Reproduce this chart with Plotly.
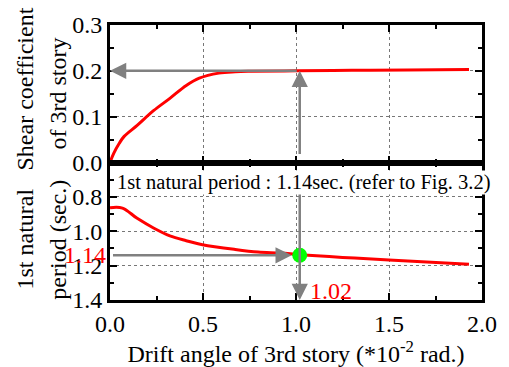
import plotly.graph_objects as go
from plotly.subplots import make_subplots

# Data
drift_shear = [0.0, 0.02, 0.05, 0.076, 0.146, 0.234, 0.322, 0.41, 0.48, 0.585, 0.673, 0.76, 1.0, 1.3, 1.6, 1.93]
shear_coef = [0.0, 0.02, 0.042, 0.057, 0.081, 0.113, 0.140, 0.168, 0.184, 0.195, 0.198, 0.199, 0.200, 0.201, 0.202, 0.203]

drift_period = [0.0, 0.067, 0.146, 0.234, 0.322, 0.41, 0.497, 0.673, 0.796, 0.918, 1.02, 1.25, 1.5, 1.93]
period_sec = [0.863, 0.865, 0.925, 0.981, 1.027, 1.055, 1.078, 1.106, 1.121, 1.127, 1.136, 1.152, 1.167, 1.192]

target_period = 1.14
target_drift = 1.02
target_shear = 0.2

x_ticks = [0.0, 0.5, 1.0, 1.5, 2.0]
shear_ticks = [0.0, 0.1, 0.2, 0.3]
period_ticks = [0.8, 1.0, 1.2, 1.4]

FONT = "Times New Roman, Liberation Serif, serif"
GRAY = "#808080"

fig = make_subplots(rows=2, cols=1, shared_xaxes=True, vertical_spacing=0.0)

fig.add_trace(go.Scatter(x=drift_shear, y=shear_coef, mode="lines",
                         line=dict(color="#ff0000", width=3, shape="spline"), showlegend=False), row=1, col=1)
fig.add_trace(go.Scatter(x=drift_period, y=period_sec, mode="lines",
                         line=dict(color="#ff0000", width=3, shape="spline"), showlegend=False), row=2, col=1)
fig.add_trace(go.Scatter(x=[target_drift], y=[target_period], mode="markers",
                         marker=dict(color="#00ff00", size=15), showlegend=False), row=2, col=1)

axis_common = dict(showline=True, linecolor="black", linewidth=3, mirror="allticks",
                   ticks="inside", tickcolor="black", tickwidth=2, ticklen=7,
                   showgrid=True, gridcolor="#777777", griddash="dot", gridwidth=1,
                   zeroline=False,
                   tickfont=dict(family=FONT, size=24, color="black"))

fig.update_xaxes(**axis_common, range=[0, 2.0], tickvals=x_ticks,
                 minor=dict(ticks="inside", ticklen=4, tickwidth=1.5, tickcolor="black", dtick=0.25, showgrid=False))
fig.update_xaxes(showticklabels=False, row=1, col=1)
fig.update_xaxes(showticklabels=True, tickformat=".1f", row=2, col=1,
                 title=dict(text="Drift angle of 3rd story (*10<sup>-2</sup> rad.)",
                            font=dict(family=FONT, size=24, color="black"), standoff=1))

fig.update_yaxes(**axis_common)
fig.update_yaxes(range=[0, 0.3], tickvals=shear_ticks, tickformat=".1f", row=1, col=1,
                 minor=dict(ticks="inside", ticklen=4, tickwidth=1.5, tickcolor="black", dtick=0.05, showgrid=False))
fig.update_yaxes(range=[1.4, 0.6], tickvals=period_ticks, tickformat=".1f", row=2, col=1,
                 minor=dict(ticks="inside", ticklen=4, tickwidth=1.5, tickcolor="black", dtick=0.1, showgrid=False))

fig.update_layout(
    width=509, height=367,
    margin=dict(l=110, r=18, t=19, b=62),
    plot_bgcolor="white", paper_bgcolor="white",
    font=dict(family=FONT, color="black"),
)
fig.layout.yaxis.domain = [0.5, 1.0]
fig.layout.yaxis2.domain = [0.0, 0.5]

ann = []
arrow_style = dict(showarrow=True, arrowhead=2, arrowsize=1.3, arrowwidth=2.5, arrowcolor=GRAY, text=" ")
# arrows top panel
ann.append(dict(x=0, y=target_shear, ax=target_drift, ay=target_shear, xref="x", yref="y",
                axref="x", ayref="y", **arrow_style))
ann.append(dict(x=target_drift, y=target_shear, ax=target_drift, ay=0, xref="x", yref="y",
                axref="x", ayref="y", **arrow_style))
# arrows bottom panel
ann.append(dict(x=target_drift, y=1.4, ax=target_drift, ay=0.6, xref="x2", yref="y2",
                axref="x2", ayref="y2", **arrow_style))
ann.append(dict(x=target_drift, y=target_period, ax=0, ay=target_period, xref="x2", yref="y2",
                axref="x2", ayref="y2", standoff=8, **arrow_style))
# red labels
ann.append(dict(x=0, y=target_period, xref="x2", yref="y2", text=f"{target_period:.2f}",
                showarrow=False, xanchor="right", xshift=-2,
                font=dict(family=FONT, size=24, color="#ff0000")))
ann.append(dict(x=target_drift, y=1.4, xref="x2", yref="y2", text=f"{target_drift:.2f}",
                showarrow=False, xanchor="left", yanchor="bottom", xshift=8, yshift=-6,
                font=dict(family=FONT, size=24, color="#ff0000")))
# annotation text
ann.append(dict(x=0.5, y=0.715, xref="paper", yref="y2",
                text=f"1st natural period : {target_period:.2f}sec. (refer to Fig. 3.2)",
                showarrow=False, font=dict(family=FONT, size=20.5, color="black"),
                bgcolor="white", borderpad=0, xshift=7))
# y titles
for txt, xp, yp in [("Shear coefficient", 23, 86), ("of 3rd story", 57, 90),
                    ("1st natural", 23, 242), ("period (sec.)", 57, 242)]:
    ann.append(dict(x=(xp - 110) / 381, y=1 - (yp - 19) / 286, xref="paper", yref="paper",
                    text=txt, textangle=-90, showarrow=False, xanchor="center", yanchor="middle",
                    font=dict(family=FONT, size=24, color="black")))
fig.update_layout(annotations=ann)

fig.write_html("out.html")
